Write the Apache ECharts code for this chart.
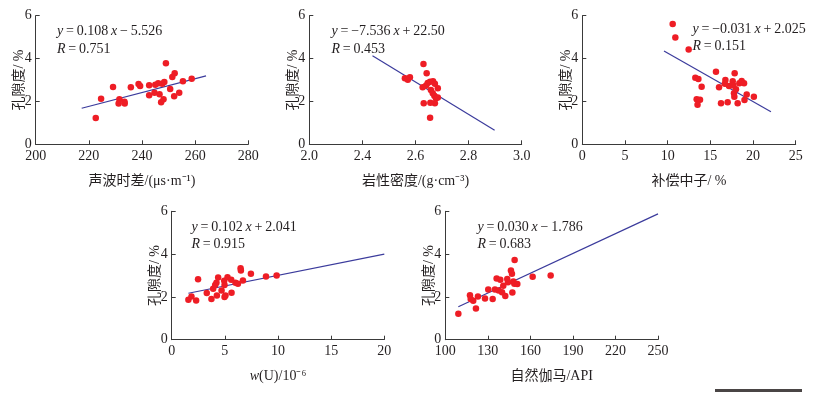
<!DOCTYPE html>
<html><head><meta charset="utf-8">
<script src="https://cdn.jsdelivr.net/npm/echarts@6/dist/echarts.min.js"></script>
<style>html,body{margin:0;padding:0;background:#fff}#c{width:817px;height:397px}</style>
</head><body><div id="c"></div>
<script>
// Panel 1: acoustic interval transit time vs porosity
const p1x = [222.6,224.6,229.1,231.5,231.2,233.4,233.5,235.8,238.7,239.3,242.7,242.7,244.7,245.0,246.1,246.6,247.2,247.6,248.1,248.4,249.0,250.6,251.4,252.3,252.1,254.0,255.4,258.7];
const p1y = [1.23,2.13,2.67,2.10,1.90,1.98,1.90,2.66,2.81,2.72,2.75,2.29,2.40,2.78,2.85,2.33,1.96,2.83,2.10,2.91,3.78,2.58,3.14,3.31,2.24,2.41,2.94,3.06];
const l1x = [217.3,264.1];
const l1y = [1.68,3.19];
// Panel 2: rock density
const p2x = [2.560,2.571,2.579,2.630,2.642,2.627,2.640,2.646,2.655,2.666,2.673,2.684,2.658,2.665,2.671,2.677,2.684,2.673,2.656,2.631,2.655];
const p2y = [3.08,3.01,3.13,3.75,3.31,2.66,2.74,2.86,2.92,2.94,2.83,2.61,2.53,2.38,2.27,2.15,2.18,1.91,1.94,1.91,1.24];
const l2x = [2.438,2.898];
const l2y = [4.13,0.66];
const ticks2 = ['2.0','2.4','2.6','2.8','3.0'];
// Panel 3: compensated neutron
const p3x = [10.59,10.90,12.46,13.40,13.79,13.50,13.24,13.60,13.98,15.66,16.02,16.25,16.76,17.03,17.19,17.62,17.77,17.85,17.81,18.00,18.20,18.40,18.67,18.95,19.00,19.26,20.10,16.70,17.70];
const p3y = [5.61,4.98,4.42,2.10,2.08,1.84,3.11,3.05,2.69,3.39,2.66,1.91,3.00,1.96,2.72,2.94,2.38,3.31,2.22,2.57,1.91,2.85,2.95,2.85,2.07,2.32,2.22,2.82,2.74];
const l3x = [9.57,22.1];
const l3y = [4.35,1.52];
// Panel 4: uranium content
const p4x = [1.57,1.86,2.30,2.48,3.30,3.74,3.90,4.09,4.21,4.25,4.37,4.69,4.94,4.97,4.97,5.06,5.25,5.60,5.63,6.00,6.23,6.48,6.51,6.70,7.45,8.87,9.87];
const p4y = [1.87,2.02,1.83,2.82,2.18,1.90,2.38,2.56,2.66,2.07,2.91,2.30,2.75,2.56,1.99,2.07,2.92,2.80,2.19,2.66,2.61,3.34,3.23,2.77,3.08,2.95,3.00];
const l4x = [1.57,20];
const l4y = [2.17,4.0];
// Panel 5: natural gamma
const p5x = [109.2,117.4,117.9,119.7,121.6,123.0,128.0,130.3,133.4,135.0,136.2,137.6,138.8,140.0,140.9,142.3,143.7,144.2,146.3,147.0,147.3,148.0,148.7,148.9,150.8,161.6,174.3];
const p5y = [1.21,2.08,1.90,1.82,1.46,2.02,1.93,2.35,1.90,2.35,2.86,2.30,2.80,2.22,2.52,2.04,2.84,2.69,3.23,3.08,2.21,2.72,2.61,3.72,2.60,2.94,3.00];
const l5x = [109.2,250];
const l5y = [1.54,5.88];

const xNames = ['声波时差/(μs·m⁻¹)','岩性密度/(g·cm⁻³)','补偿中子/ %','{i|w}(U)/10⁻⁶','自然伽马/API'];
const yName = '孔隙度/ %';
const xRanges = [[200,280,20],[2.2,3.0,0.2],[0,25,5],[0,20,5],[100,250,30]];
const S = '\u2009';
const eqs = [['{i|y}'+S+'='+S+'0.108'+S+'{i|x}'+S+'−'+S+'5.526','{i|R}'+S+'='+S+'0.751'],
             ['{i|y}'+S+'='+S+'−7.536'+S+'{i|x}'+S+'+'+S+'22.50','{i|R}'+S+'='+S+'0.453'],
             ['{i|y}'+S+'='+S+'−0.031'+S+'{i|x}'+S+'+'+S+'2.025','{i|R}'+S+'='+S+'0.151'],
             ['{i|y}'+S+'='+S+'0.102'+S+'{i|x}'+S+'+'+S+'2.041','{i|R}'+S+'='+S+'0.915'],
             ['{i|y}'+S+'='+S+'0.030'+S+'{i|x}'+S+'−'+S+'1.786','{i|R}'+S+'='+S+'0.683']];

const FONT = '"Liberation Serif","Noto Sans CJK SC",serif';
const TXT = '#231f20';
const grids = [
  {left:35.7, top:15.7, width:212.6, height:128.6},
  {left:309.3, top:15.7, width:212.4, height:128.6},
  {left:582.3, top:15.7, width:213.4, height:128.6},
  {left:171.7, top:211.3, width:212.6, height:128.4},
  {left:445.3, top:211.3, width:212.7, height:128.4}
].map(g => Object.assign({containLabel:false, outerBoundsMode:'none'}, g));

const eqPos = [[57,32,50],[331.5,32,50],[692.5,30,47.5],[191.5,228,245],[477.5,228,245]];

const xAxes = xRanges.map((r,i) => ({
  type:'value', gridIndex:i, min:r[0], max:r[1], interval:r[2],
  name:xNames[i], nameLocation:'middle', nameGap:30, nameMoveOverlap:false,
  nameTextStyle:{fontFamily:FONT, fontSize:14, color:TXT, rich:{i:{fontStyle:'italic', fontFamily:FONT, fontSize:14, color:TXT}}},
  axisLine:{lineStyle:{color:'#3a3a3a', width:1}},
  axisTick:{inside:true, length:4, lineStyle:{color:'#3a3a3a'}},
  splitLine:{show:false},
  axisLabel:{fontFamily:FONT, fontSize:14, color:TXT, margin:5,
    formatter: i===1 ? (v,idx)=>ticks2[idx] : (v)=>String(v)}
}));
const yAxes = xRanges.map((r,i) => ({
  type:'value', gridIndex:i, min:0, max:6, interval:2,
  name:yName, nameLocation:'middle', nameGap:9, nameRotate:90, nameMoveOverlap:false,
  nameTextStyle:{fontFamily:FONT, fontSize:14, color:TXT},
  axisLine:{show:true, lineStyle:{color:'#3a3a3a', width:1}},
  axisTick:{show:true, inside:true, length:4, lineStyle:{color:'#3a3a3a'}},
  splitLine:{show:false},
  axisLabel:{fontFamily:FONT, fontSize:14, color:TXT, margin:4}
}));

const P = [[p1x,p1y],[p2x,p2y],[p3x,p3y],[p4x,p4y],[p5x,p5y]];
const L = [[l1x,l1y],[l2x,l2y],[l3x,l3y],[l4x,l4y],[l5x,l5y]];
const series = [];
P.forEach((p,i) => {
  series.push({type:'line', xAxisIndex:i, yAxisIndex:i, data:L[i][0].map((x,k)=>[x,L[i][1][k]]),
    symbol:'none', lineStyle:{color:'#3b3b9c', width:1.2}, z:2, silent:true});
  series.push({type:'scatter', xAxisIndex:i, yAxisIndex:i, data:p[0].map((x,k)=>[x,p[1][k]]),
    symbolSize:6.5, itemStyle:{color:'#ee1d25', opacity:1}, z:3});
});

const graphic = [];
eqs.forEach((e,i) => {
  const [x,y1,y2] = eqPos[i];
  [[e[0],y1],[e[1],y2]].forEach(([t,y]) => graphic.push({
    type:'text', left:x, top:y-8, z:10,
    style:{text:t, font:'14px '+FONT, fill:TXT,
      rich:{i:{fontStyle:'italic', fontFamily:FONT, fontSize:14, fill:TXT, color:TXT}}}
  }));
});
graphic.push({type:'rect', shape:{x:715, y:389, width:87, height:3}, style:{fill:'#4a4545'}});

const chart = echarts.init(document.getElementById('c'), null, {renderer:'canvas'});
chart.setOption({
  animation:false, backgroundColor:'#fff',
  grid:grids, xAxis:xAxes, yAxis:yAxes, series:series, graphic:graphic
});
</script></body></html>
